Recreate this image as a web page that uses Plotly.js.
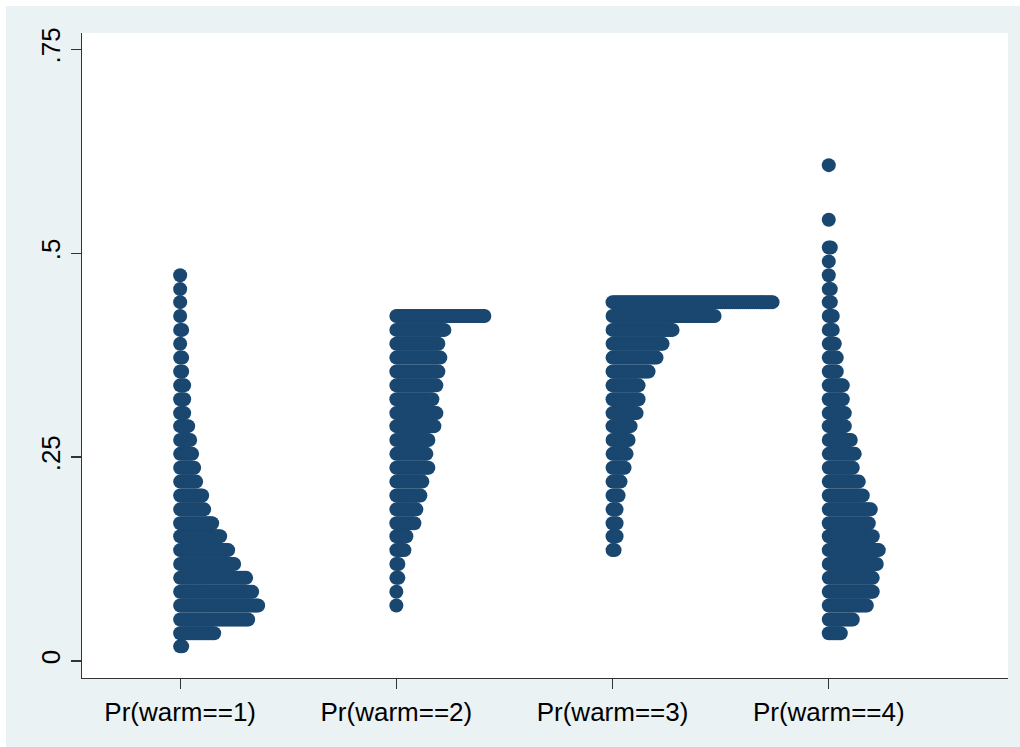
<!DOCTYPE html>
<html>
<head>
<meta charset="utf-8">
<script src="https://cdn.plot.ly/plotly-3.0.1.min.js"></script>
<style>
  html, body { margin: 0; padding: 0; background: #ffffff; }
  #chart { position: absolute; left: 6px; top: 6px; width: 1014px; height: 741px; }
</style>
</head>
<body>
<div id="chart"></div>
<script>
// Category labels (x axis)
const categories = ['Pr(warm==1)', 'Pr(warm==2)', 'Pr(warm==3)', 'Pr(warm==4)'];

// Y axis ticks
const yTickValues = [0, 0.25, 0.5, 0.75];
const yTickLabels = ['0', '.25', '.5', '.75'];

// Dot-plot bins: y value (bin midpoint) and number of dots in that row
const warm1Y = [0.018, 0.034, 0.051, 0.068, 0.085, 0.102, 0.119, 0.136, 0.153, 0.169, 0.186, 0.203, 0.220, 0.237, 0.254, 0.271, 0.288, 0.304, 0.321, 0.338, 0.355, 0.372, 0.389, 0.406, 0.423, 0.440, 0.456, 0.473];
const warm1N = [2, 18, 35, 40, 37, 34, 28, 25, 21, 17, 13, 12, 9, 8, 7, 6, 5, 3, 3, 3, 2, 2, 1, 2, 1, 1, 1, 1];

const warm2Y = [0.068, 0.085, 0.102, 0.119, 0.136, 0.153, 0.169, 0.186, 0.203, 0.220, 0.237, 0.254, 0.271, 0.288, 0.304, 0.321, 0.338, 0.355, 0.372, 0.389, 0.406, 0.423];
const warm2N = [1, 1, 2, 2, 5, 6, 10, 11, 13, 14, 17, 16, 17, 20, 21, 19, 21, 22, 23, 22, 25, 45];

const warm3Y = [0.136, 0.153, 0.169, 0.186, 0.203, 0.220, 0.237, 0.254, 0.271, 0.288, 0.304, 0.321, 0.338, 0.355, 0.372, 0.389, 0.406, 0.423, 0.440];
const warm3N = [2, 3, 3, 3, 4, 5, 7, 8, 9, 10, 13, 14, 14, 19, 23, 26, 31, 52, 81];

const warm4Y = [0.034, 0.051, 0.068, 0.085, 0.102, 0.119, 0.136, 0.153, 0.169, 0.186, 0.203, 0.220, 0.237, 0.254, 0.271, 0.288, 0.304, 0.321, 0.338, 0.355, 0.372, 0.389, 0.406, 0.423, 0.440, 0.456, 0.473, 0.490, 0.507, 0.541, 0.608];
const warm4N = [7, 13, 20, 23, 23, 25, 26, 23, 21, 22, 18, 16, 13, 14, 12, 9, 9, 8, 8, 5, 5, 4, 3, 3, 2, 2, 1, 1, 2, 1, 1];

const seriesY = [warm1Y, warm2Y, warm3Y, warm4Y];
const seriesN = [warm1N, warm2N, warm3N, warm4N];

// horizontal step between stacked dots (x-axis units)
const dotStep = 0.00925;

const xs = [], ys = [];
seriesY.forEach(function (yArr, c) {
  const nArr = seriesN[c];
  yArr.forEach(function (yv, i) {
    for (let k = 0; k < nArr[i]; k++) {
      xs.push(c + 1 + k * dotStep);
      ys.push(yv);
    }
  });
});

const trace = {
  type: 'scatter',
  mode: 'markers',
  x: xs,
  y: ys,
  marker: { size: 14, color: '#1A476F', line: { width: 0 } },
  hoverinfo: 'skip',
  showlegend: false
};

const tickFont = { family: 'Liberation Sans, Arial, sans-serif', size: 26, color: '#000000' };

const layout = {
  width: 1014,
  height: 741,
  margin: { l: 76, r: 12, t: 27, b: 69, pad: 0 },
  paper_bgcolor: '#EAF2F3',
  plot_bgcolor: '#FFFFFF',
  showlegend: false,
  xaxis: {
    range: [0.546, 4.829],
    tickmode: 'array',
    tickvals: [1, 2, 3, 4],
    ticktext: categories,
    ticks: 'outside',
    ticklen: 10,
    tickwidth: 1.3,
    tickcolor: '#333333',
    showline: true,
    linecolor: '#333333',
    linewidth: 1.3,
    showgrid: false,
    zeroline: false,
    tickfont: tickFont
  },
  yaxis: {
    range: [-0.0208, 0.770],
    tickmode: 'array',
    tickvals: yTickValues,
    ticktext: yTickLabels,
    tickangle: -90,
    ticks: 'outside',
    ticklen: 10,
    tickwidth: 1.3,
    tickcolor: '#333333',
    showline: true,
    linecolor: '#333333',
    linewidth: 1.3,
    showgrid: false,
    zeroline: false,
    tickfont: tickFont
  }
};

Plotly.newPlot('chart', [trace], layout, { displayModeBar: false, staticPlot: true });
</script>
</body>
</html>
